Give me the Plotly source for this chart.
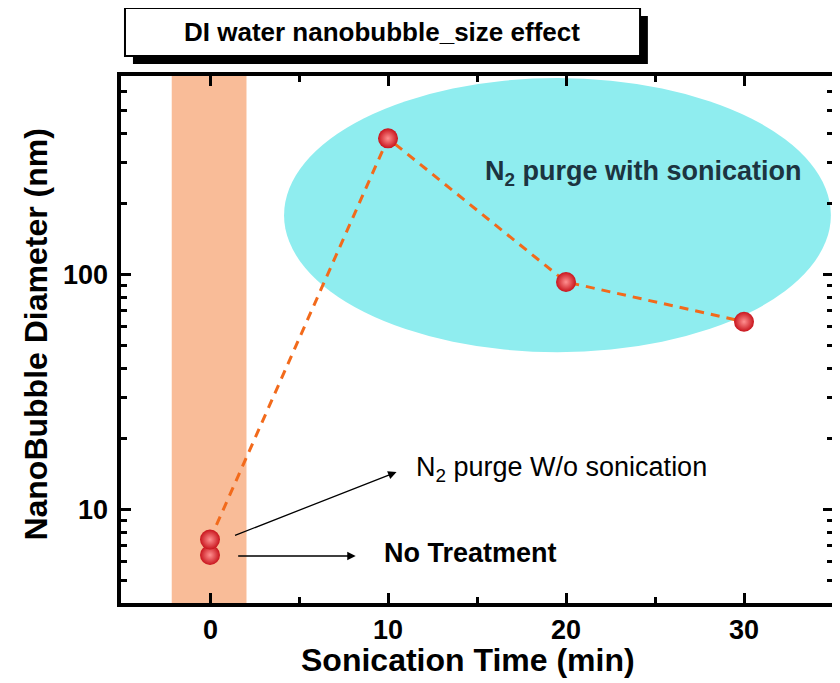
import math
import plotly.graph_objects as go

# ---- data ----
sonication_time = [0, 0, 10, 20, 30]          # min
diameter_nm = [6.4, 7.45, 380, 93, 63]         # nm
line_time = [0, 10, 20, 30]
line_diameter = [7.45, 380, 93, 63]

x_ticks = [0, 10, 20, 30]
x_tick_labels = ["0", "10", "20", "30"]
y_ticks = [10, 100]
y_tick_labels = ["10", "100"]

title_text = "DI water nanobubble_size effect"
x_title = "Sonication Time (min)"
y_title = "NanoBubble Diameter (nm)"
label_sonic = "N<sub>2</sub> purge with sonication"
label_wo = "N<sub>2</sub> purge W/o sonication"
label_none = "No Treatment"

FONT = "Arial, Liberation Sans, sans-serif"
X_RANGE = [-5, 35]
Y_RANGE = [math.log10(4), math.log10(700)]

fig = go.Figure()

fig.add_trace(go.Scatter(
    x=line_time, y=line_diameter, mode="lines",
    line=dict(color="#F26A1B", width=3, dash="9px,7px"),
    hoverinfo="skip", showlegend=False))

fig.add_trace(go.Scatter(
    x=sonication_time, y=diameter_nm, mode="markers",
    marker=dict(size=20, color="#C8141C",
                gradient=dict(type="radial", color="#FF9090"),
                line=dict(width=0)),
    showlegend=False))

# orange band around t=0
fig.add_shape(type="rect", xref="x", yref="y domain", x0=-2.15, x1=2.05, y0=0, y1=1,
              fillcolor="#F9BC98", line=dict(width=0), layer="below")
# cyan ellipse
fig.add_shape(type="circle", xref="paper", yref="paper", x0=0.229, x1=0.997, y0=0.476, y1=0.996,
              fillcolor="#8FEDEF", line=dict(width=0), layer="below")

# title box with shadow
fig.add_shape(type="rect", xref="paper", yref="paper", x0=0.0168, x1=0.740, y0=1.023, y1=1.114,
              fillcolor="black", line=dict(width=0))
fig.add_shape(type="rect", xref="paper", yref="paper", x0=0.0056, x1=0.729, y0=1.038, y1=1.129,
              fillcolor="white", line=dict(color="black", width=2))

tick_font = dict(family=FONT, size=27, color="black", weight="bold")

ann = []
# tick labels, placed through the axes' own scales
for v, t in zip(x_ticks, x_tick_labels):
    ann.append(dict(text=t, xref="x", yref="paper", x=v, y=-0.0512,
                    xanchor="center", yanchor="middle", showarrow=False, font=tick_font))
for v, t in zip(y_ticks, y_tick_labels):
    ann.append(dict(text=t, xref="paper", yref="y", x=-0.0154, y=math.log10(v),
                    xanchor="right", yanchor="middle", showarrow=False, font=tick_font))

ann.append(dict(text=title_text, xref="paper", yref="paper", x=0.367, y=1.0835,
                xanchor="center", yanchor="middle", showarrow=False,
                font=dict(family=FONT, size=26, color="black", weight="bold")))
ann.append(dict(text=x_title, xref="paper", yref="paper", x=0.4874, y=-0.108,
                xanchor="center", yanchor="middle", showarrow=False,
                font=dict(family=FONT, size=32, color="black", weight="bold")))
ann.append(dict(text=y_title, xref="paper", yref="paper", x=-0.12, y=0.5085, textangle=-90,
                xanchor="center", yanchor="middle", showarrow=False,
                font=dict(family=FONT, size=32, color="black", weight="bold")))
ann.append(dict(text=label_sonic, xref="paper", yref="paper", x=0.508, y=0.815,
                xanchor="left", yanchor="middle", showarrow=False,
                font=dict(family=FONT, size=27, color="#1C3440", weight="bold")))
ann.append(dict(text=label_wo, xref="paper", yref="paper", x=0.412, y=0.255,
                xanchor="left", yanchor="middle", showarrow=False,
                font=dict(family=FONT, size=27, color="black")))
ann.append(dict(text=label_none, xref="paper", yref="paper", x=0.366, y=0.0949,
                xanchor="left", yanchor="middle", showarrow=False,
                font=dict(family=FONT, size=27, color="black", weight="bold")))
# arrows
ann.append(dict(text="", xref="paper", yref="paper", x=0.387, y=0.2486, ax=-163, ay=64,
                showarrow=True, arrowhead=2, arrowsize=1.3, arrowwidth=1.3, arrowcolor="black"))
ann.append(dict(text="", xref="paper", yref="paper", x=0.3296, y=0.0892, ax=-119, ay=0,
                showarrow=True, arrowhead=2, arrowsize=1.3, arrowwidth=1.3, arrowcolor="black"))

frame = dict(showline=True, linewidth=4, linecolor="black", showgrid=False, zeroline=False,
             mirror="allticks", ticks="inside", ticklen=10, tickwidth=3, tickcolor="black",
             showticklabels=False)

# page body has an 8px margin: figure is 832x675 and everything is placed 8px up/left
fig.update_layout(
    width=832, height=675,
    margin=dict(l=113, r=3, t=68, b=80),
    paper_bgcolor="white", plot_bgcolor="white",
    annotations=ann,
    font=dict(family=FONT, color="black"),
    xaxis=dict(range=X_RANGE, tickmode="array", tickvals=x_ticks,
               minor=dict(tick0=0, dtick=5, ticks="inside", ticklen=6, tickwidth=3,
                          tickcolor="black", showgrid=False),
               **frame),
    yaxis=dict(type="log", range=Y_RANGE, tickmode="array", tickvals=y_ticks,
               minor=dict(dtick="D1", ticks="inside", ticklen=6, tickwidth=3,
                          tickcolor="black", showgrid=False),
               **frame),
)

fig.write_html("out.html")
